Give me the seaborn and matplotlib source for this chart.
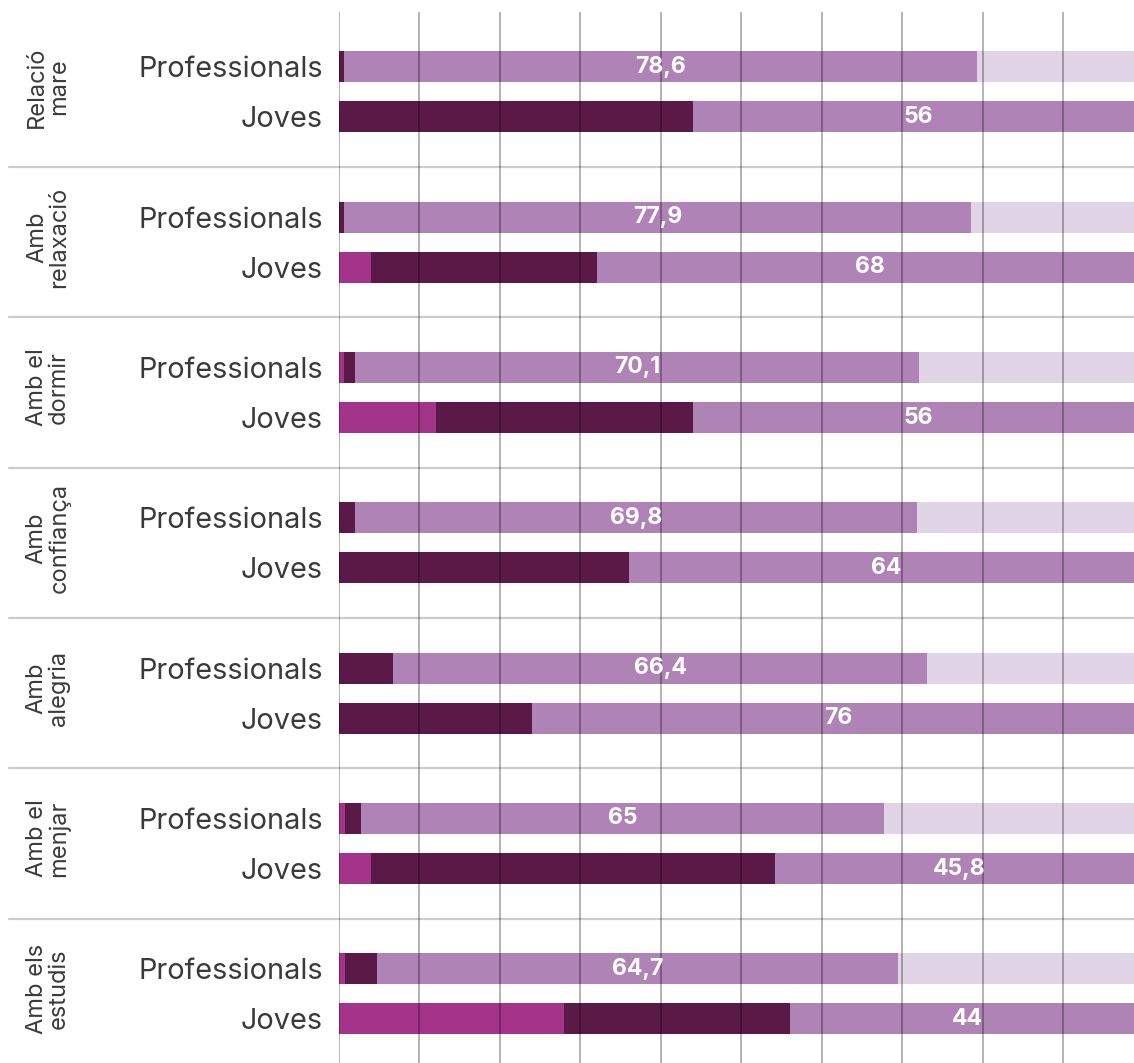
import numpy as np
import pandas as pd
import matplotlib
matplotlib.use("Agg")
import matplotlib.pyplot as plt
import matplotlib.transforms as mtransforms
import seaborn as sns

# ---------------- data ----------------
groups = ["Relació\nmare", "Amb\nrelaxació", "Amb el\ndormir", "Amb\nconfiança",
          "Amb\nalegria", "Amb el\nmenjar", "Amb els\nestudis"]
respondents = ["Professionals", "Joves"]

# segment values per group, order: Professionals, Joves
seg_magenta = [0.0, 0.0,   0.0, 4.0,   0.6, 12.0,  0.0, 0.0,   0.0, 0.0,   0.7, 4.0,   0.7, 28.0]
seg_dark    = [0.6, 44.0,  0.6, 28.0,  1.4, 32.0,  2.0, 36.0,  6.7, 24.0,  2.0, 50.2,  4.0, 28.0]
seg_medium  = [78.6, 56.0, 77.9, 68.0, 70.1, 56.0, 69.8, 64.0, 66.4, 76.0, 65.0, 45.8, 64.7, 44.0]
seg_light   = [20.8, 0.0,  21.5, 0.0,  27.9, 0.0,  28.2, 0.0,  26.9, 0.0,  32.3, 0.0,  30.6, 0.0]

# ---------------- style ----------------
C_MAGENTA = "#a4338a"
C_DARK = "#5a1947"
C_MEDIUM = "#b083b7"
C_LIGHT = "#e2d4e7"
TXT = "#3a3a3a"

sns.set_theme(style="white")
plt.rcParams["font.family"] = ["Inter", "DejaVu Sans"]

rows = []
for gi, g in enumerate(groups):
    for ri, r in enumerate(respondents):
        k = gi * 2 + ri
        rows.append({"group": g, "resp": r, "pos": gi * 3 + 1 + ri,
                     "mag": seg_magenta[k], "dark": seg_dark[k],
                     "med": seg_medium[k], "light": seg_light[k]})
df = pd.DataFrame(rows)
df["c1"] = df["mag"]
df["c2"] = df["c1"] + df["dark"]
df["c3"] = df["c2"] + df["med"]
df["c4"] = df["c3"] + df["light"]

W, H = 1134, 1063
fig = plt.figure(figsize=(W / 100, H / 100), dpi=100)
ax = fig.add_axes([339 / W, 0, 795 / W, (H - 12) / H])

for col, color in [("c4", C_LIGHT), ("c3", C_MEDIUM), ("c2", C_DARK), ("c1", C_MAGENTA)]:
    sns.barplot(data=df, x=col, y="pos", orient="h", native_scale=True,
                color=color, saturation=1, width=0.62, errorbar=None,
                linewidth=0, ax=ax)

ax.set_xlim(0, 98.76)
ax.set_ylim(20.88, -0.094)

# value labels on the medium segment
for _, row in df.iterrows():
    v = row["med"]
    s = str(int(v)) if float(v).is_integer() else f"{v:.1f}".replace(".", ",")
    ax.text(row["c2"] + v / 2, row["pos"], s, ha="center", va="center",
            color="white", fontsize=16.5, fontweight="bold", zorder=5)

# y tick labels
ax.set_yticks(df["pos"].tolist())
ax.set_yticklabels(df["resp"].tolist(), fontsize=20.8, color=TXT)
ax.tick_params(axis="y", length=0, pad=11.5)

# x grid on top of bars
ax.set_xticks(np.arange(0, 100, 10))
ax.set_xticklabels([])
ax.tick_params(axis="x", length=0)
ax.set_axisbelow(False)
ax.grid(axis="x", color="black", alpha=0.32, linewidth=1.3, zorder=3)
ax.grid(axis="y", visible=False)
ax.set_xlabel("")
ax.set_ylabel("")
for sp in ax.spines.values():
    sp.set_visible(False)

# separators between groups
for gi in range(1, len(groups)):
    ax.axhline(gi * 3, xmin=(9 - 339) / 795, xmax=1, color="#cccccc",
               linewidth=1.6, clip_on=False, zorder=1)

# group labels
trans = mtransforms.blended_transform_factory(ax.transAxes, ax.transData)
for gi, g in enumerate(groups):
    ax.text((48 - 339) / 795, gi * 3 + 1.4, g, transform=trans, rotation=90,
            ha="center", va="center", multialignment="center",
            fontsize=17, color=TXT, linespacing=1.0)

fig.savefig("out.png", dpi=100)
